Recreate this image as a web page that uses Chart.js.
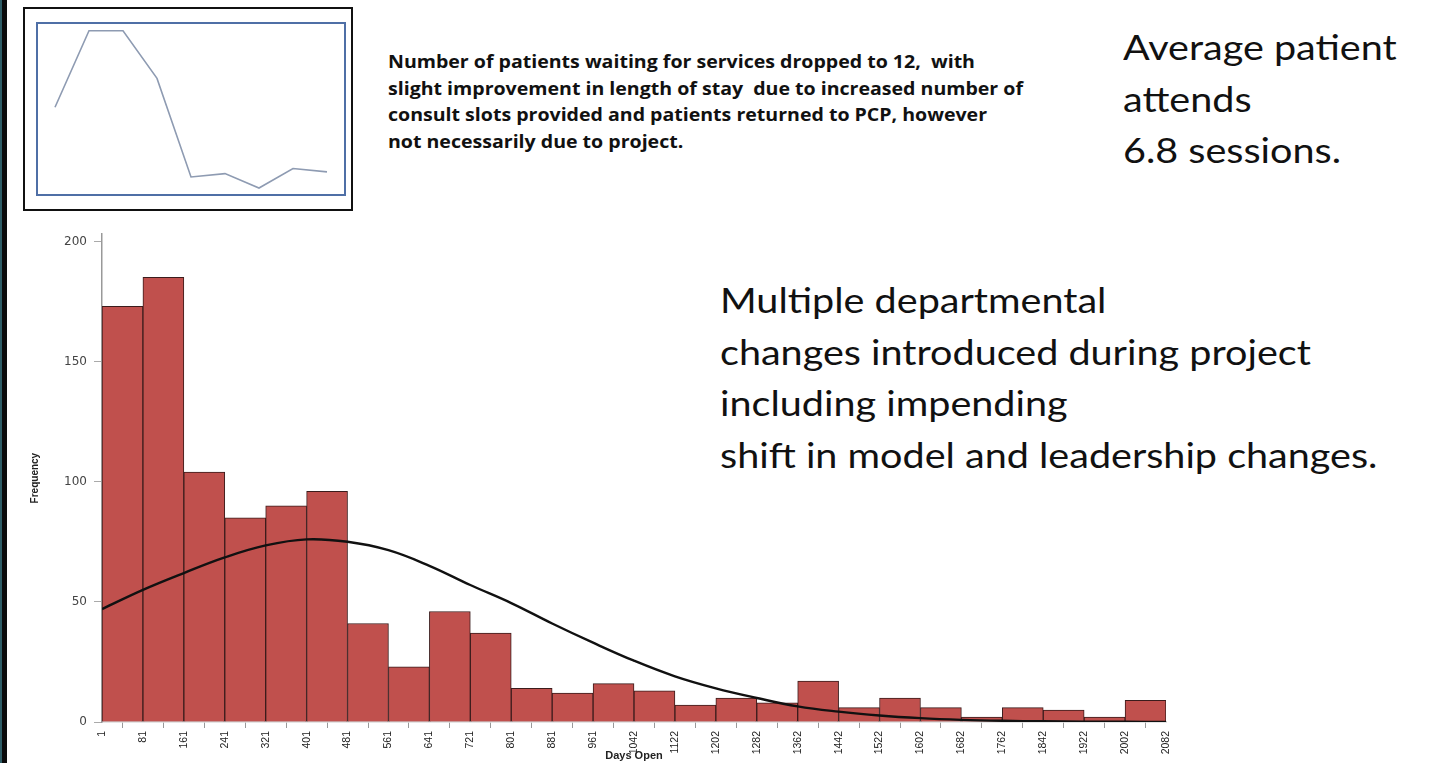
<!DOCTYPE html>
<html>
<head>
<meta charset="utf-8">
<script src="https://cdn.jsdelivr.net/npm/chart.js"></script>
<style>
  html, body { margin: 0; padding: 0; background: #fff; }
  body { width: 1435px; height: 763px; position: relative; overflow: hidden; font-family: Lato, "Open Sans", sans-serif; }
  .edge { position: absolute; left: 0; top: 0; width: 2px; height: 763px; background: #2f5d66; }
  .edge2 { position: absolute; left: 2px; top: 0; width: 5px; height: 763px; background: #0b0b0b; }
  .insetFrame { position: absolute; left: 23px; top: 7px; width: 330px; height: 204px; border: 2px solid #111; box-sizing: border-box; }
  .insetBox { position: absolute; left: 36px; top: 22px; width: 310px; height: 174px; border: 2px solid #4f6fa6; box-sizing: border-box; }
  .note { position: absolute; left: 388px; top: 49px; font-family: "Open Sans", sans-serif; font-weight: bold; font-size: 17px; line-height: 26.5px; color: #111; white-space: pre; transform: scaleX(1.15); transform-origin: 0 0; }
  .big { position: absolute; font-size: 35px; line-height: 51.5px; color: #111; white-space: pre; transform: scaleX(1.13); transform-origin: 0 0; }
  #main { position: absolute; left: 0; top: 220px; width: 1200px; height: 543px; }
</style>
</head>
<body>
<div class="edge"></div><div class="edge2"></div>
<div class="insetFrame"></div>
<div class="insetBox"><canvas id="inset"></canvas></div>
<div class="note">Number of patients waiting for services dropped to 12,  with
slight improvement in length of stay  due to increased number of
consult slots provided and patients returned to PCP, however
not necessarily due to project.</div>
<div class="big" style="left:1123px; top:21px;">Average patient
attends
6.8 sessions.</div>
<div class="big" style="left:720px; top:274px;">Multiple departmental
changes introduced during project
including impending
shift in model and leadership changes.</div>
<div id="main"><canvas id="co2Chart"></canvas></div>

<script>
// histogramme : bornes des classes (jours) et fréquences
const binEdges = ['1', '81', '161', '241', '321', '401', '481', '561', '641', '721', '801', '881', '961',
  '1042', '1122', '1202', '1282', '1362', '1442', '1522', '1602', '1682', '1762', '1842', '1922', '2002', '2082'];
const frequency = [173, 185, 104, 85, 90, 96, 41, 23, 46, 37, 14, 12, 16, 13, 7, 10, 8, 17, 6, 10, 6, 2, 6, 5, 2, 9];
// courbe normale lue à chaque borne
const normalCurve = [47, 55, 62, 68.5, 73.5, 76, 75, 71.5, 65, 57, 49.5, 41, 33, 25.5, 19, 14, 10, 6.5,
  4.3, 2.7, 1.6, 0.9, 0.5, 0.3, 0.15, 0.08, 0.04];
const yTicks = [0, 50, 100, 150, 200];

// petit graphique en haut à gauche
const insetLabels = ['P1', 'P2', 'P3', 'P4', 'P5', 'P6', 'P7', 'P8', 'P9'];
const insetValues = [51, 96, 96, 68, 10, 12, 3.5, 15, 13];

const initiateCharts = () => {
  new Chart(document.getElementById('inset').getContext('2d'), {
    type: 'line',
    data: {
      labels: insetLabels,
      datasets: [{
        data: insetValues,
        borderColor: '#8e9bb2',
        borderWidth: 1.6,
        pointRadius: 0,
        tension: 0
      }]
    },
    options: {
      responsive: true,
      maintainAspectRatio: false,
      animation: false,
      layout: { padding: 0 },
      plugins: { legend: { display: false }, tooltip: { enabled: false } },
      scales: {
        x: { display: false, offset: true },
        y: { display: false, min: 0, max: 100 }
      }
    }
  });

  const ctx = document.getElementById('co2Chart').getContext('2d');
  chart = new Chart(ctx, {
    data: {
      datasets: [{
        type: 'line',
        data: normalCurve.map((v, i) => ({ x: i, y: v })),
        borderColor: '#111',
        borderWidth: 2.4,
        pointRadius: 0,
        tension: 0.4,
        order: 0
      }, {
        type: 'bar',
        data: frequency.map((v, i) => ({ x: i + 0.5, y: v })),
        backgroundColor: '#c0504d',
        borderColor: '#3b1c1c',
        borderWidth: 1,
        barPercentage: 1,
        categoryPercentage: 1,
        order: 1
      }]
    },
    options: {
      responsive: true,
      maintainAspectRatio: false,
      animation: false,
      layout: { padding: { top: 14, right: 34, left: 0, bottom: 0 } },
      plugins: { legend: { display: false }, tooltip: { enabled: false } },
      scales: {
        x: {
          type: 'linear',
          offset: false,
          min: 0,
          max: binEdges.length - 1,
          afterBuildTicks: axis => { axis.ticks = binEdges.map((_, i) => ({ value: i })); },
          afterFit: scale => { scale.height = 41; },
          ticks: {
            autoSkip: false,
            maxRotation: 90,
            minRotation: 90,
            padding: 3,
            color: '#222',
            font: { family: 'Liberation Sans', size: 10.5 },
            callback: v => binEdges[v]
          },
          grid: { drawOnChartArea: false, tickLength: 6, color: '#999' },
          border: { color: '#ccc', width: 1.5 },
          title: {
            display: true,
            text: 'Days Open',
            color: '#222',
            font: { family: 'Liberation Sans', size: 11, weight: 'bold' },
            padding: { top: 0, bottom: 0 }
          }
        },
        y: {
          min: 0,
          max: 203,
          afterBuildTicks: axis => { axis.ticks = yTicks.map(v => ({ value: v })); },
          afterFit: scale => { scale.width = 102; },
          ticks: {
            padding: 7,
            color: '#444',
            font: { family: 'DejaVu Sans', size: 12 }
          },
          grid: { drawOnChartArea: false, tickLength: 8, color: '#aaa' },
          border: { color: '#999', width: 1.5 },
          title: {
            display: true,
            text: 'Frequency',
            color: '#222',
            font: { family: 'Liberation Sans Narrow, Liberation Sans', size: 10, weight: 'bold' },
            padding: { top: 29, bottom: 0 }
          }
        }
      }
    }
  });
};

document.addEventListener('DOMContentLoaded', initiateCharts);
</script>
</body>
</html>
